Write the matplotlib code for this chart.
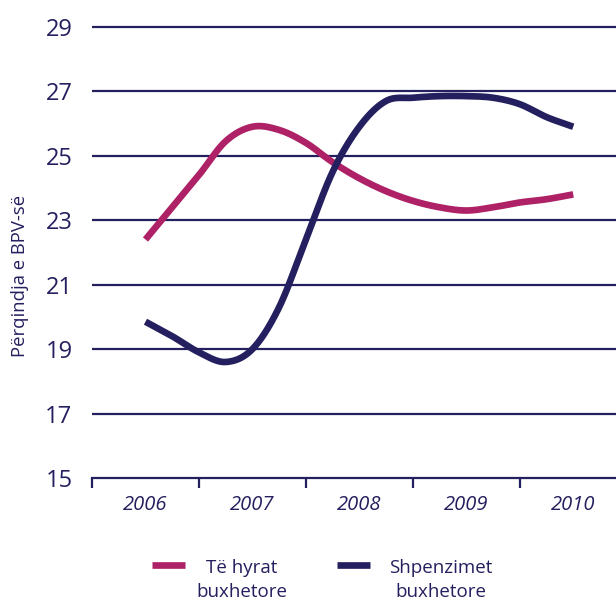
import numpy as np
import matplotlib
matplotlib.use("Agg")
import matplotlib.pyplot as plt
from matplotlib.lines import Line2D

plt.rcParams['font.family'] = ['Open Sans', 'DejaVu Sans']

# Years shown on the category axis
years = ["2006", "2007", "2008", "2009", "2010"]

# Quarterly readings (position in years from 2006)
t = [0, 0.25, 0.5, 0.75, 1, 1.25, 1.5, 1.75, 2, 2.25, 2.5, 2.75, 3, 3.25, 3.5, 3.75, 4]

# Budget revenues, % of GDP
revenues = [22.4, 23.4, 24.4, 25.45, 25.9, 25.8, 25.4, 24.8, 24.3, 23.9, 23.6, 23.4,
            23.3, 23.4, 23.55, 23.65, 23.8]
# Budget expenditures, % of GDP
expenditures = [19.85, 19.4, 18.9, 18.6, 19.0, 20.3, 22.4, 24.5, 25.9, 26.7, 26.8, 26.85,
                26.85, 26.8, 26.6, 26.2, 25.9]

labels = ["Të hyrat\nbuxhetore", "Shpenzimet\nbuxhetore"]
yticks = [15, 17, 19, 21, 23, 25, 27, 29]

MAGENTA = "#AE2166"
NAVY = "#241F5E"

W, H = 616, 601


def catmull_rom(x, y, n=24):
    """Smooth curve passing through every (x, y) pair."""
    x = np.asarray(x, float)
    y = np.asarray(y, float)
    px = np.concatenate([[2 * x[0] - x[1]], x, [2 * x[-1] - x[-2]]])
    py = np.concatenate([[2 * y[0] - y[1]], y, [2 * y[-1] - y[-2]]])
    xs, ys = [], []
    s = np.linspace(0, 1, n, endpoint=False)
    for i in range(1, len(px) - 2):
        for arr, out in ((px, xs), (py, ys)):
            p0, p1, p2, p3 = arr[i - 1], arr[i], arr[i + 1], arr[i + 2]
            out.extend(0.5 * ((2 * p1) + (-p0 + p2) * s
                              + (2 * p0 - 5 * p1 + 4 * p2 - p3) * s ** 2
                              + (-p0 + 3 * p1 - 3 * p2 + p3) * s ** 3))
    xs.append(x[-1])
    ys.append(y[-1])
    return np.array(xs), np.array(ys)


fig = plt.figure(figsize=(W / 100, H / 100), dpi=100)
ax = fig.add_axes([92 / W, 1 - 478 / H, 1 - 92 / W, (478 - 22) / H])

for v in yticks[1:]:
    ax.axhline(v, color=NAVY, lw=1.6, zorder=1)

for series, color in ((revenues, MAGENTA), (expenditures, NAVY)):
    sx, sy = catmull_rom(t, series)
    ax.plot(sx, sy, color=color, lw=4.8, solid_capstyle='butt', zorder=3)

for side in ("top", "right", "left"):
    ax.spines[side].set_visible(False)
ax.spines["bottom"].set_color(NAVY)
ax.spines["bottom"].set_linewidth(1.6)

ax.set_yticks(yticks)
ax.set_yticklabels([str(v) for v in yticks], fontsize=17, color=NAVY)
ax.tick_params(axis='y', length=0, pad=14)

# Ticks on category boundaries, labels on category centres
ax.set_xticks(np.arange(-0.5, 4.0, 1.0))
ax.set_xticklabels([])
ax.tick_params(axis='x', which='major', length=7.5, width=1.6, color=NAVY, direction='out')
ax.set_xticks(range(len(years)), minor=True)
ax.set_xticklabels(years, minor=True, fontsize=14.5, style='italic', color=NAVY)
ax.tick_params(axis='x', which='minor', length=0, pad=12)

ax.set_xlim(-0.5, 4.4)
ax.set_ylim(15, 29.15)

fig.text(20 / W, 1 - 276 / H, "Përqindja e BPV-së", rotation=90, fontsize=13.3,
         color=NAVY, ha='center', va='center')

# Legend keys and labels
key_y = 1 - 565 / H
for (x0, x1, tx), color, lab in zip(((152, 185, 242), (337, 370, 441)), (MAGENTA, NAVY), labels):
    fig.add_artist(Line2D([x0 / W, x1 / W], [key_y, key_y], color=color, lw=4.8,
                          solid_capstyle='butt', transform=fig.transFigure))
    for k, line in enumerate(lab.split("\n")):
        fig.text(tx / W, 1 - (573 + 24 * k) / H, line, fontsize=13.5, color=NAVY,
                 ha='center', va='baseline')

fig.savefig("out.png", dpi=100)
